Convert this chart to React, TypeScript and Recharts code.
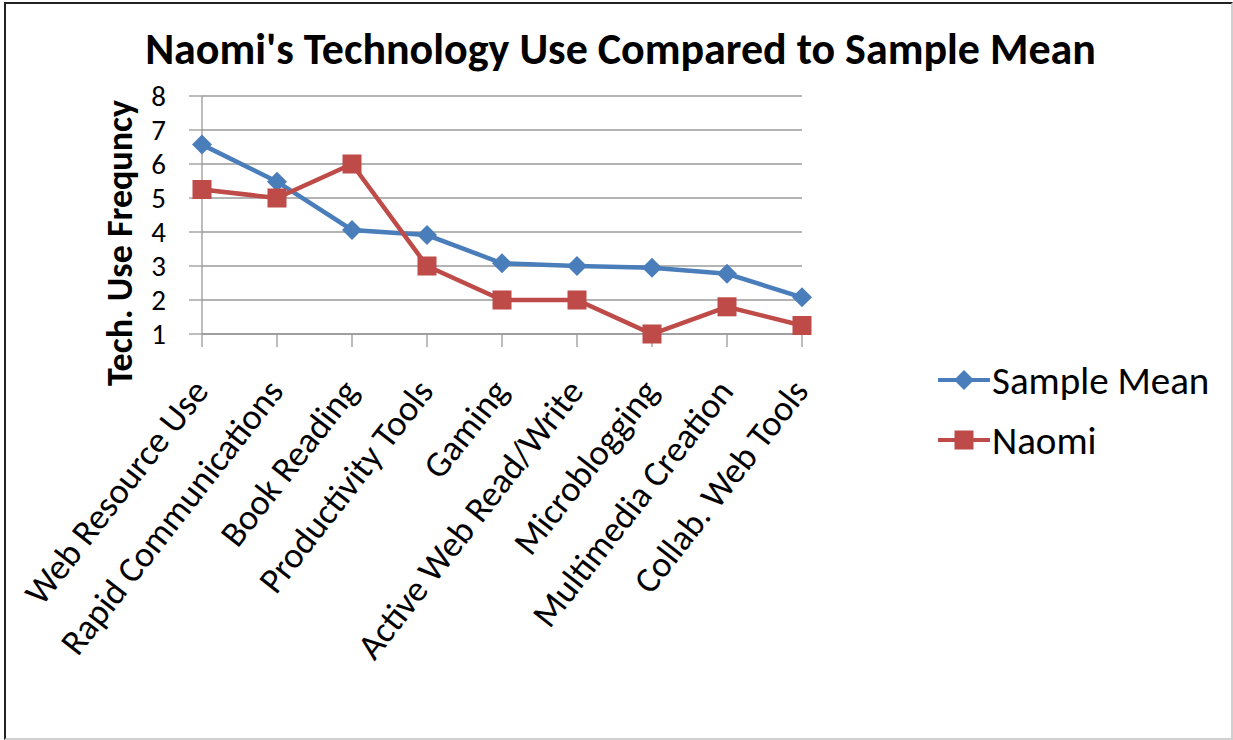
import { LineChart, Line, XAxis, YAxis, CartesianGrid, Customized } from 'recharts'

const categories = [
  'Web Resource Use',
  'Rapid Communications',
  'Book Reading',
  'Productivity Tools',
  'Gaming',
  'Active Web Read/Write',
  'Microblogging',
  'Multimedia Creation',
  'Collab. Web Tools',
]
const sampleMean = [6.57, 5.48, 4.06, 3.91, 3.08, 3.0, 2.95, 2.77, 2.08]
const naomi = [5.25, 5.0, 6.0, 3.0, 2.0, 2.0, 1.0, 1.8, 1.25]
const yTicks = [1, 2, 3, 4, 5, 6, 7, 8]

const FONT = 'Carlito, Lato, sans-serif'
const BLUE = '#4A7EBB'
const RED = '#BE4B48'
const GRID = '#9a9a9a'

const data = categories.map((name, i) => ({ name, mean: sampleMean[i], naomi: naomi[i] }))

const series = [
  { key: 'mean', label: 'Sample Mean', color: BLUE, shape: 'diamond' },
  { key: 'naomi', label: 'Naomi', color: RED, shape: 'square' },
]

function Marker({ cx, cy, shape, color }: any) {
  if (cx == null || cy == null) return null
  if (shape === 'diamond') {
    const r = 10
    return <polygon points={`${cx},${cy - r} ${cx + r},${cy} ${cx},${cy + r} ${cx - r},${cy}`} fill={color} />
  }
  const s = 19
  return <rect x={cx - s / 2} y={cy - s / 2} width={s} height={s} fill={color} />
}

function CategoryTick({ x, y, payload }: any) {
  return (
    <g transform={`translate(${x + 8},${y + 45})`}>
      <text transform="rotate(-52)" textAnchor="end" fontFamily={FONT} fontSize={36} fill="#000">
        {payload.value}
      </text>
    </g>
  )
}

function AxisTitle() {
  return (
    <text
      transform="translate(132,243) rotate(-90)"
      textAnchor="middle"
      fontFamily={FONT}
      fontWeight="bold"
      fontSize={36}
      fill="#000"
    >
      Tech. Use Frequncy
    </text>
  )
}

function LegendBox() {
  return (
    <div style={{ position: 'absolute', left: 936, top: 350, fontFamily: FONT, fontSize: 39 }}>
      {series.map((s) => (
        <div key={s.key} style={{ display: 'flex', alignItems: 'center', height: 60 }}>
          <svg width={56} height={30}>
            <line x1={2} y1={15} x2={54} y2={15} stroke={s.color} strokeWidth={4} />
            <Marker cx={28} cy={15} shape={s.shape} color={s.color} />
          </svg>
          <span>{s.label}</span>
        </div>
      ))}
    </div>
  )
}

export default function App() {
  return (
    <div style={{ position: 'absolute', left: 0, top: 0, width: 1233, height: 740, background: '#fff' }}>
      <div
        style={{
          position: 'absolute',
          left: 4,
          top: 2,
          width: 1225,
          height: 734,
          borderLeft: '2px solid #222',
          borderTop: '2px solid #222',
          borderRight: '2px solid #cfcfcf',
          borderBottom: '2px solid #cfcfcf',
        }}
      />
      <div
        style={{
          position: 'absolute',
          left: 0,
          width: 1241,
          top: 22,
          textAlign: 'center',
          fontFamily: FONT,
          fontWeight: 'bold',
          fontSize: 44,
          color: '#000',
        }}
      >
        Naomi's Technology Use Compared to Sample Mean
      </div>
      <div style={{ position: 'absolute', left: 0, top: 0 }}>
        <LineChart width={1233} height={740} data={data} margin={{ top: 96, right: 431, bottom: 0, left: 0 }}>
          <CartesianGrid horizontal vertical={false} stroke={GRID} strokeWidth={1.3} />
          <XAxis
            dataKey="name"
            interval={0}
            height={406}
            tickSize={13}
            tickMargin={0}
            tickLine={{ stroke: GRID, strokeWidth: 1.3 }}
            axisLine={{ stroke: GRID, strokeWidth: 1.3 }}
            tick={<CategoryTick />}
          />
          <YAxis
            type="number"
            domain={[1, 8]}
            ticks={yTicks}
            interval={0}
            width={202}
            tickSize={13}
            tickMargin={23}
            tickLine={{ stroke: GRID, strokeWidth: 1.3 }}
            axisLine={{ stroke: GRID, strokeWidth: 1.3 }}
            tick={{ fontFamily: FONT, fontSize: 29, fill: '#000' }}
          />
          {series.map((s) => (
            <Line
              key={s.key}
              dataKey={s.key}
              stroke={s.color}
              strokeWidth={4.5}
              isAnimationActive={false}
              dot={(p: any) => <Marker key={`${s.key}-${p.index}`} cx={p.cx} cy={p.cy} shape={s.shape} color={s.color} />}
              activeDot={false}
            />
          ))}
          <Customized component={AxisTitle} />
        </LineChart>
      </div>
      <LegendBox />
    </div>
  )
}
